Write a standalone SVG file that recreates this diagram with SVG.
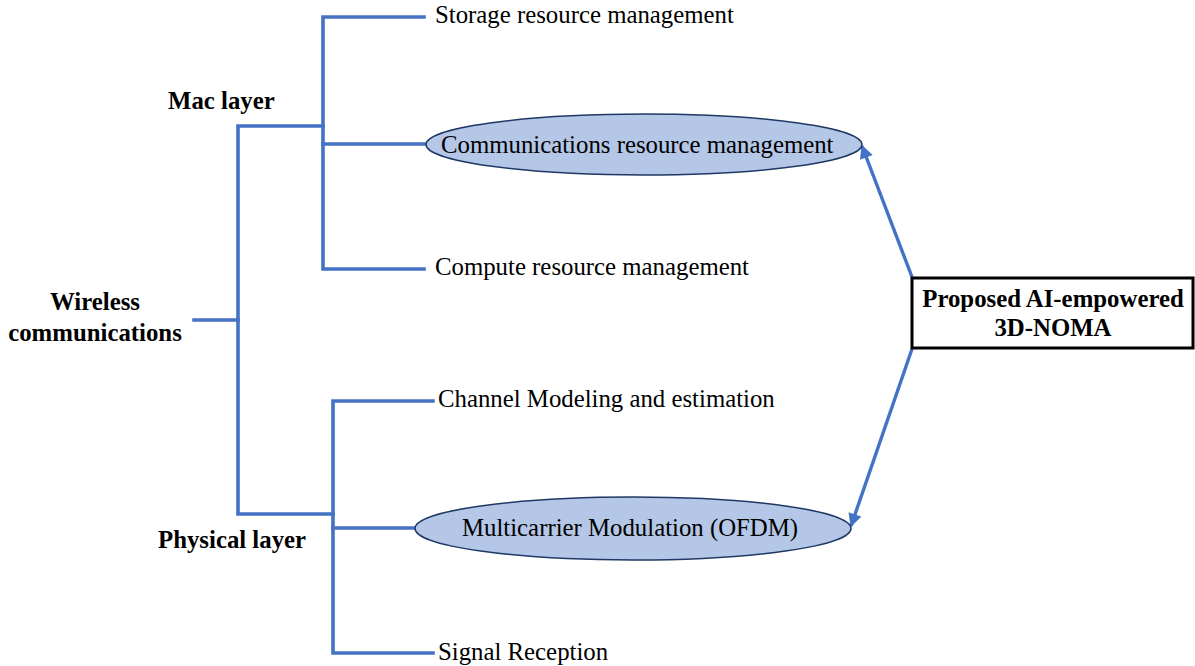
<svg xmlns="http://www.w3.org/2000/svg" width="1195" height="666" viewBox="0 0 1195 666">
  <style>
    .tree { fill: none; stroke: #4472C4; stroke-width: 3.6; stroke-linejoin: miter; stroke-linecap: square; }
    .arrow { fill: none; stroke: #4472C4; stroke-width: 3.4; marker-end: url(#head); }
    .oval { fill: #B4C7E7; stroke: #1F3864; stroke-width: 1.5; }
    .lbl { font-family: "Liberation Serif", "Times New Roman", serif; font-size: 24.8px; fill: #000; }
    .bold { font-weight: bold; }
    .box { fill: #fff; stroke: #000; stroke-width: 3; }
  </style>
  <defs>
    <marker id="head" viewBox="0 0 10 10" refX="9" refY="5" markerWidth="4.5" markerHeight="4" orient="auto" markerUnits="strokeWidth">
      <path d="M0,0 L10,5 L0,10 z" fill="#4472C4"/>
    </marker>
  </defs>
  <rect width="1195" height="666" fill="#fff"/>

  <g id="connectors">
    <!-- root stem and main spine -->
    <path class="tree" d="M194,320 H238"/>
    <path class="tree" d="M333,514 H238 V126 H323"/>
    <!-- MAC layer branch -->
    <path class="tree" d="M424,17 H323 V269 H424"/>
    <path class="tree" d="M323,144 H426"/>
    <!-- Physical layer branch -->
    <path class="tree" d="M433,401 H333 V653 H433"/>
    <path class="tree" d="M333,528 H415"/>
    <!-- links from the proposed scheme -->
    <path class="arrow" d="M912,277 L862,146"/>
    <path class="arrow" d="M912,349 L851,526"/>
  </g>

  <g id="wireless">
    <text class="lbl bold" x="95" y="310" text-anchor="middle">Wireless</text>
    <text class="lbl bold" x="95" y="341" text-anchor="middle">communications</text>
  </g>

  <g id="mac-layer">
    <text class="lbl bold" x="168" y="109">Mac layer</text>
  </g>

  <g id="physical-layer">
    <text class="lbl bold" x="158" y="548">Physical layer</text>
  </g>

  <g id="storage">
    <text class="lbl" x="435" y="23">Storage resource management</text>
  </g>

  <g id="communications">
    <ellipse class="oval" cx="644" cy="144.5" rx="218" ry="30.5"/>
    <text class="lbl" x="441" y="153">Communications resource management</text>
  </g>

  <g id="compute">
    <text class="lbl" x="435" y="275">Compute resource management</text>
  </g>

  <g id="channel">
    <text class="lbl" x="438" y="407">Channel Modeling and estimation</text>
  </g>

  <g id="multicarrier">
    <ellipse class="oval" cx="633" cy="528.5" rx="218" ry="31.5"/>
    <text class="lbl" x="462" y="536">Multicarrier Modulation (OFDM)</text>
  </g>

  <g id="signal">
    <text class="lbl" x="438" y="660">Signal Reception</text>
  </g>

  <g id="proposed">
    <rect class="box" x="912" y="278" width="281" height="70"/>
    <text class="lbl bold" x="1053" y="307" text-anchor="middle">Proposed AI-empowered</text>
    <text class="lbl bold" x="1053" y="336" text-anchor="middle">3D-NOMA</text>
  </g>
</svg>
